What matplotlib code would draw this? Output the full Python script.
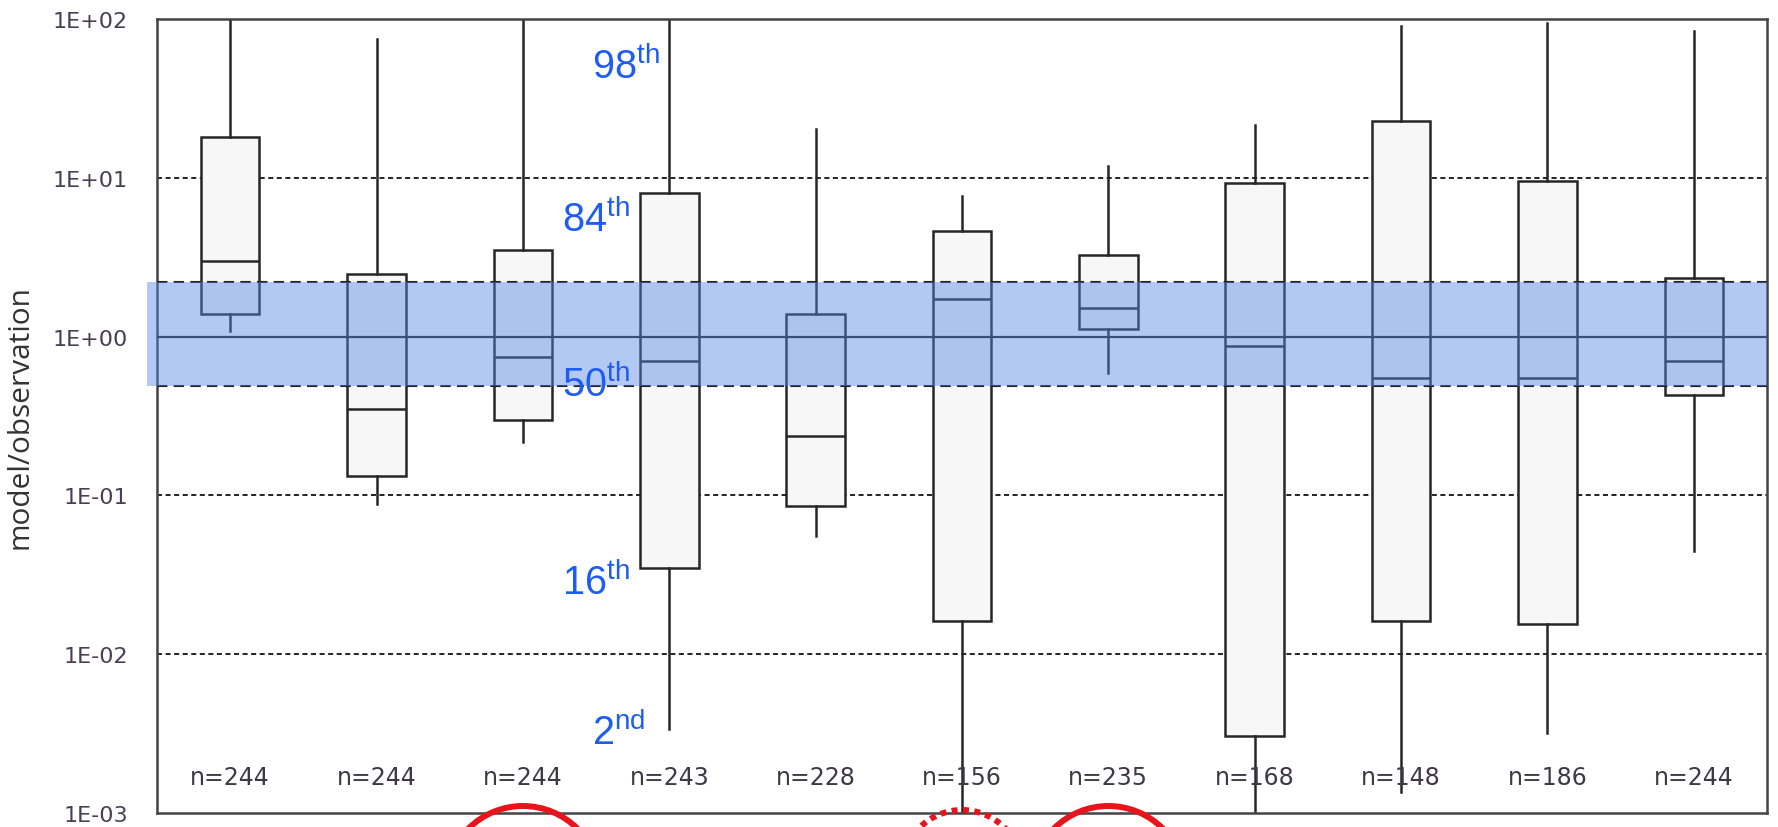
import matplotlib
matplotlib.use("Agg")
import matplotlib.pyplot as plt
from matplotlib.patches import Rectangle, Circle
from matplotlib.transforms import IdentityTransform
from matplotlib.ticker import FixedLocator, FixedFormatter, NullLocator

plt.rcParams['mathtext.fontset'] = 'custom'
plt.rcParams['mathtext.rm'] = 'Liberation Sans'

# ---- data (percentiles of model/observation per case) ----
p98 = [120, 74.7, 120, 120, 20.3, 7.64, 11.8, 21.5, 90.5, 94.8, 83.8]
p84 = [18.2, 2.47, 3.49, 8.0, 1.38, 4.64, 3.28, 9.26, 22.9, 9.6, 2.33]
p50 = [3.0, 0.352, 0.741, 0.70, 0.236, 1.72, 1.51, 0.877, 0.55, 0.55, 0.70]
p16 = [1.39, 0.133, 0.30, 0.0349, 0.0858, 0.0163, 1.11, 0.00304, 0.0163, 0.0154, 0.43]
p2 = [1.08, 0.0878, 0.216, 0.00336, 0.0554, 0.0008, 0.593, 0.0008, 0.00136, 0.0032, 0.0447]
n_labels = ["n=244", "n=244", "n=244", "n=243", "n=228", "n=156",
            "n=235", "n=168", "n=148", "n=186", "n=244"]
ytick_vals = [1e-3, 1e-2, 1e-1, 1e0, 1e1, 1e2]
ytick_labels = ["1E-03", "1E-02", "1E-01", "1E+00", "1E+01", "1E+02"]
band_low, band_high = 0.49, 2.2
pct_labels = ["98", "84", "50", "16", "2"]
pct_sups = ["th", "th", "th", "th", "nd"]
pct_x = [3.47, 3.27, 3.27, 3.27, 3.47]
pct_y = [42.5, 4.62, 0.423, 0.0239, 0.00272]
circled_boxes = [3, 6, 7]
circle_dotted = [False, True, False]

W, H = 1778, 828
fig = plt.figure(figsize=(W / 100, H / 100), dpi=100)
ax = fig.add_axes([157 / W, (H - 814) / H, (1767 - 157) / W, (814 - 20) / H])

positions = list(range(1, len(p50) + 1))
stats = []
for i in range(len(p50)):
    stats.append(dict(med=p50[i], q1=p16[i], q3=p84[i],
                      whislo=p2[i], whishi=p98[i], fliers=[]))

edge = '#262626'
ax.bxp(stats, positions=positions, widths=0.4, showcaps=False,
       showfliers=False, patch_artist=True,
       boxprops=dict(facecolor='#f7f7f7', edgecolor=edge, linewidth=1.8),
       whiskerprops=dict(color=edge, linewidth=1.8),
       medianprops=dict(color=edge, linewidth=1.8),
       zorder=2)

ax.set_yscale('log')
ax.set_ylim(1e-3, 1e2)
ax.set_xlim(0.5, len(p50) + 0.5)

# grid lines (behind boxes)
for v in ytick_vals[1:-1]:
    if v == 1e0:
        continue
    ax.axhline(v, color='#222222', lw=1.4, ls=(0, (2.6, 1.8)), zorder=1)

# reference line and band edges (over boxes)
ax.axhline(1.0, color='#222222', lw=1.6, zorder=3)
for v in (band_low, band_high):
    ax.axhline(v, color='#222222', lw=1.5, ls=(0, (5, 3)), zorder=3)

band = Rectangle((-0.006, band_low), 1.006, band_high - band_low,
                 transform=ax.get_yaxis_transform(), facecolor=(88/255, 133/255, 230/255),
                 alpha=0.45, edgecolor='none', zorder=4, clip_on=False)
ax.add_patch(band)

# axes styling
for s in ax.spines.values():
    s.set_color('#444444')
    s.set_linewidth(1.8)
ax.xaxis.set_major_locator(NullLocator())
ax.yaxis.set_major_locator(FixedLocator(ytick_vals))
ax.yaxis.set_major_formatter(FixedFormatter(ytick_labels))
ax.yaxis.set_minor_locator(NullLocator())
ax.tick_params(axis='y', length=0, pad=21, labelsize=16, labelcolor='#4a3f52')
for lbl in ax.get_yticklabels():
    lbl.set_fontfamily('DejaVu Sans')

fig.text(20 / W, (H - 417) / H, 'model/observation', rotation=90,
         ha='center', va='center', fontsize=21.5, color='#333333',
         family='Open Sans')

# n labels
for x, t in zip(positions, n_labels):
    ax.text(x, (814 - 778) / 794, t, transform=ax.get_xaxis_transform(),
            ha='center', va='center', fontsize=17, color='#3d3a45',
            family='DejaVu Sans', zorder=5)

# percentile annotations
for lab, sup, x, y in zip(pct_labels, pct_sups, pct_x, pct_y):
    ax.text(x, y, r'$\mathrm{' + lab + r'}^{\mathrm{' + sup + r'}}$',
            ha='left', va='baseline', fontsize=28.5, color='#1f5cf2', zorder=6)

# red circles below the axis
for b, dotted in zip(circled_boxes, circle_dotted):
    cx = ax.transData.transform((b, 1.0))[0]
    if dotted:
        r = 60
        cy = 17 - r
        c = Circle((cx, cy), r, transform=IdentityTransform(), fill=False,
                   edgecolor='#e8141b', lw=4.3, ls=(0, (1.0, 0.9)))
        c.set_capstyle('butt')
    else:
        r = 77
        cy = 21 - r
        c = Circle((cx, cy), r, transform=IdentityTransform(), fill=False,
                   edgecolor='#e8141b', lw=4.3)
    fig.add_artist(c)

fig.savefig('out.png', dpi=100)
